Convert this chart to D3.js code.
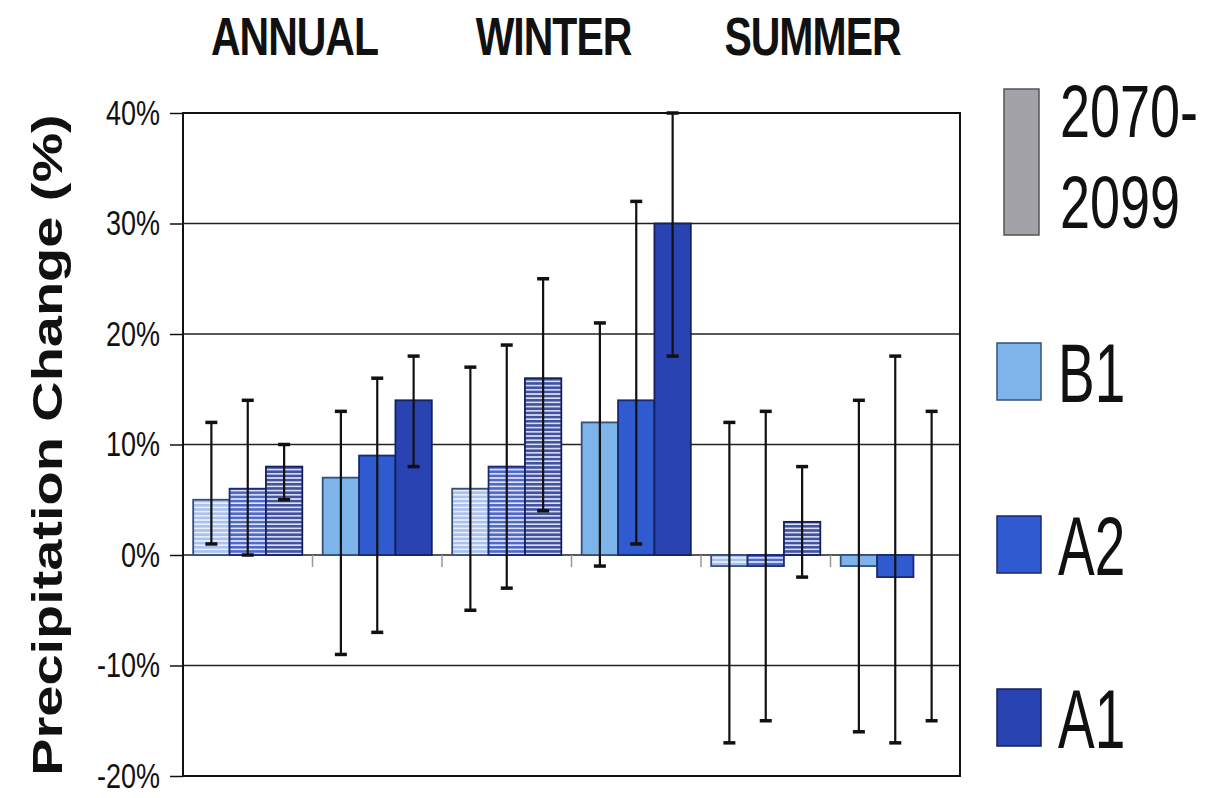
<!DOCTYPE html>
<meta charset="utf-8">
<style>
body { margin: 0; background: #fff; }
text { font-family: Arial, "Liberation Sans", sans-serif; fill: #111; }
.grid line { stroke: #222; stroke-width: 1.5; }
.frame { fill: none; stroke: #111; stroke-width: 2; }
.err { stroke: #111; stroke-width: 2.2; }
.cap { stroke: #111; stroke-width: 3.5; }
</style>
<svg width="1207" height="798"></svg>
<script src="https://cdn.jsdelivr.net/npm/d3@7"></script>
<script>

// data (percent change)
var seasons = ["ANNUAL", "WINTER", "SUMMER"];
var periods = ["2035-2064", "2070-2099"];   // first one is the hatched set
var scenarios = ["B1", "A2", "A1"];

// order: annual early, annual late, winter early, winter late, summer early, summer late
var meanB1 = [5, 7, 6, 12, -1, -1];
var meanA2 = [6, 9, 8, 14, -1, -2];
var meanA1 = [8, 14, 16, 30, 3, 0];
var highB1 = [12, 13, 17, 21, 12, 14];
var lowB1  = [1, -9, -5, -1, -17, -16];
var highA2 = [14, 16, 19, 32, 13, 18];
var lowA2  = [0, -7, -3, 1, -15, -17];
var highA1 = [10, 18, 25, 40, 8, 13];
var lowA1  = [5, 8, 4, 18, -2, -15];
var yTicks = [-20, -10, 0, 10, 20, 30, 40];

var svg = d3.select("svg"),
    width = +svg.attr("width"),
    height = +svg.attr("height");

svg.append("rect").attr("width", width).attr("height", height).attr("fill", "#fff");

var pLeft = 183, pRight = 960, pTop = 113, pBottom = 776;
var stretch = "scale(1,1.3)";   // the original figure is stretched tall

var solidColor = {B1: "#7db5ea", A2: "#2f5ad0", A1: "#2a43b2"};
var hatchColor = {B1: "#a9c1ec", A2: "#5068c8", A1: "#42529e"};
var edgeColor = {B1: "#34507a", A2: "#182a70", A1: "#13215c"};

var categories = [];
seasons.forEach(function(s) {
  periods.forEach(function(p) { categories.push(s + " " + p); });
});

var means = {B1: meanB1, A2: meanA2, A1: meanA1};
var highs = {B1: highB1, A2: highA2, A1: highA1};
var lows = {B1: lowB1, A2: lowA2, A1: lowA1};

var rows = [];
categories.forEach(function(c, i) {
  scenarios.forEach(function(k) {
    rows.push({cat: c, key: k, hatched: i % 2 == 0,
               v: means[k][i], hi: highs[k][i], lo: lows[k][i]});
  });
});

var x0 = d3.scaleBand().domain(categories).range([pLeft, pRight]);
var x1 = d3.scaleBand().domain(scenarios).range([0, x0.bandwidth()])
    .paddingInner(0).paddingOuter(0.28);
var y = d3.scaleLinear().domain([-20, 40]).range([pBottom, pTop]);

// hatch patterns
var defs = svg.append("defs");
scenarios.forEach(function(k) {
  var pat = defs.append("pattern")
      .attr("id", "hatch-" + k)
      .attr("patternUnits", "userSpaceOnUse")
      .attr("width", 8).attr("height", 4.2);
  pat.append("rect").attr("width", 8).attr("height", 4.2).attr("fill", hatchColor[k]);
  pat.append("rect").attr("y", 2.7).attr("width", 8).attr("height", 1.4)
      .attr("fill", "#f4f7ff");
});

// grid lines
svg.append("g").attr("class", "grid")
  .selectAll("line")
  .data(yTicks)
  .enter().append("line")
  .attr("x1", pLeft).attr("x2", pRight)
  .attr("y1", function(d) { return y(d); })
  .attr("y2", function(d) { return y(d); });

// y axis
var yAxis = svg.append("g")
    .attr("transform", "translate(" + pLeft + ",0)")
    .call(d3.axisLeft(y).tickValues(yTicks).tickSize(13).tickPadding(10)
      .tickFormat(function(d) { return d + "%"; }));
yAxis.select(".domain").remove();
yAxis.selectAll("line").attr("stroke", "#111").attr("stroke-width", 1.5);
yAxis.selectAll("text")
    .attr("font-size", "27px")
    .attr("fill", "#222")
    .attr("transform", stretch);

// category separators on the zero line
svg.append("g")
  .selectAll("line")
  .data(categories.slice(1))
  .enter().append("line")
  .attr("x1", function(d) { return x0(d); })
  .attr("x2", function(d) { return x0(d); })
  .attr("y1", y(0)).attr("y2", y(0) + 12)
  .attr("stroke", "#999").attr("stroke-width", 1.5);

// bars
svg.append("g")
  .selectAll("rect")
  .data(rows)
  .enter().append("rect")
  .attr("x", function(d) { return x0(d.cat) + x1(d.key); })
  .attr("width", x1.bandwidth())
  .attr("y", function(d) { return y(Math.max(0, d.v)); })
  .attr("height", function(d) { return Math.abs(y(d.v) - y(0)); })
  .attr("fill", function(d) { return d.hatched ? "url(#hatch-" + d.key + ")" : solidColor[d.key]; })
  .attr("stroke", function(d) { return edgeColor[d.key]; })
  .attr("stroke-width", 1.8);

// error bars
var eb = svg.append("g")
  .selectAll("g")
  .data(rows)
  .enter().append("g")
  .attr("transform", function(d) {
    return "translate(" + (x0(d.cat) + x1(d.key) + x1.bandwidth() / 2) + ",0)";
  });
eb.append("line").attr("class", "err")
  .attr("y1", function(d) { return y(d.hi); })
  .attr("y2", function(d) { return y(d.lo); });
eb.append("line").attr("class", "cap")
  .attr("x1", -6).attr("x2", 6)
  .attr("y1", function(d) { return y(d.hi); })
  .attr("y2", function(d) { return y(d.hi); });
eb.append("line").attr("class", "cap")
  .attr("x1", -6).attr("x2", 6)
  .attr("y1", function(d) { return y(d.lo); })
  .attr("y2", function(d) { return y(d.lo); });

// frame
svg.append("rect").attr("class", "frame")
  .attr("x", pLeft).attr("y", pTop)
  .attr("width", pRight - pLeft).attr("height", pBottom - pTop);

// season titles over each pair of groups
svg.append("g")
  .selectAll("text")
  .data(seasons)
  .enter().append("text")
  .attr("transform", function(d) {
    var cx = x0(d + " " + periods[1]) - 18;
    return "translate(" + cx + ",55) " + stretch;
  })
  .attr("text-anchor", "middle")
  .attr("font-weight", "bold")
  .attr("font-size", "41px")
  .attr("letter-spacing", "-1px")
  .text(function(d) { return d; });

// y title
svg.append("text")
  .attr("transform", "translate(62,445) " + stretch + " rotate(-90)")
  .attr("text-anchor", "middle")
  .attr("font-weight", "bold")
  .attr("font-size", "43px")
  .text("Precipitation Change (%)");

// legend
var lg = svg.append("g");
lg.append("rect")
  .attr("x", 1004).attr("y", 89).attr("width", 35).attr("height", 146)
  .attr("fill", "#a2a2a8").attr("stroke", "#555").attr("stroke-width", 1.5);
lg.append("text").attr("transform", "translate(1060,137) scale(1,1.36)")
  .attr("font-size", "54px").text(periods[1].split("-")[0] + "-");
lg.append("text").attr("transform", "translate(1060,228) scale(1,1.36)")
  .attr("font-size", "54px").text(periods[1].split("-")[1]);

var items = lg.selectAll(".item")
  .data(scenarios)
  .enter().append("g")
  .attr("class", "item")
  .attr("transform", function(d, i) { return "translate(997," + (343 + 173 * i) + ")"; });
items.append("rect")
  .attr("width", 44).attr("height", 57)
  .attr("fill", function(d) { return solidColor[d]; })
  .attr("stroke", function(d) { return edgeColor[d]; })
  .attr("stroke-width", 1.5);
items.append("text")
  .attr("transform", "translate(61,59) scale(1,1.5)")
  .attr("font-size", "55px")
  .text(function(d) { return d; });

</script>
